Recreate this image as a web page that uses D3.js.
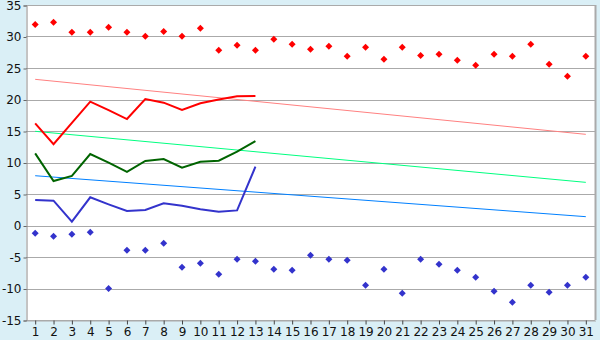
<!DOCTYPE html>
<html>
<head>
<meta charset="utf-8">
<title>Daily chart</title>
<script src="https://d3js.org/d3.v7.min.js"></script>
<style>
  body { margin: 0; background: #daeff6; }
  text { font-family: "DejaVu Sans", Verdana, sans-serif; font-size: 12px; fill: #111; }
</style>
</head>
<body>
<div id="chart"></div>
<script>
// days of the month
const days = d3.range(1, 32);
const yTicks = [35, 30, 25, 20, 15, 10, 5, 0, -5, -10, -15];

// scatter series (all 31 days)
const highPoints = [31.9, 32.25, 30.66, 30.66, 31.46, 30.66, 30.03, 30.8, 30.03, 31.3,
  27.8, 28.6, 27.8, 29.55, 28.76, 27.97, 28.44, 26.85, 28.28, 26.38,
  28.28, 27.0, 27.17, 26.22, 25.43, 27.17, 26.85, 28.76, 25.58, 23.68, 26.85];
const lowPoints = [-1.24, -1.72, -1.4, -1.08, -10.0, -3.94, -3.94, -2.83, -6.64, -6.0,
  -7.75, -5.37, -5.68, -6.95, -7.11, -4.73, -5.37, -5.52, -9.49, -6.95,
  -10.76, -5.37, -6.16, -7.11, -8.22, -10.45, -12.2, -9.49, -10.6, -9.49, -8.22];

// line series (first 13 days)
const redLine = [16.2, 12.9, 16.3, 19.66, 18.3, 16.9, 20.08, 19.5, 18.33, 19.4, 20.0, 20.5, 20.56];
const greenLine = [11.45, 7.06, 7.86, 11.35, 9.97, 8.5, 10.24, 10.56, 9.18, 10.13, 10.29, 11.72, 13.41];
const blueLine = [4.05, 3.94, 0.6, 4.48, 3.36, 2.3, 2.46, 3.52, 3.14, 2.57, 2.2, 2.4, 9.34];

// trend lines: value at day 1 and day 31
const trendDays = [1, 31];
const pinkTrend = [23.2, 14.47];
const springTrend = [14.95, 6.85];
const azureTrend = [7.9, 1.4];

const width = 600, height = 340;
const margin = {left: 26, right: 5, top: 5, bottom: 20};

const svg = d3.select("#chart").append("svg")
  .attr("width", width).attr("height", height);

const x = d3.scaleBand().domain(days)
  .range([margin.left, width - margin.right]);
const cx = d => x(d) + x.bandwidth() / 2;
const y = d3.scaleLinear().domain([-15, 35])
  .range([height - margin.bottom, margin.top]);

// plot background
svg.append("rect")
  .attr("x", margin.left).attr("y", margin.top)
  .attr("width", width - margin.right - margin.left)
  .attr("height", height - margin.bottom - margin.top)
  .attr("fill", "#fff");

// gridlines
svg.append("g").selectAll("line").data(yTicks).join("line")
  .attr("x1", margin.left).attr("x2", width - margin.right)
  .attr("y1", d => Math.round(y(d)) + 0.5).attr("y2", d => Math.round(y(d)) + 0.5)
  .attr("stroke", "#aaa");

// right border
svg.append("line")
  .attr("x1", width - margin.right + 0.5).attr("x2", width - margin.right + 0.5)
  .attr("y1", margin.top).attr("y2", height - margin.bottom)
  .attr("stroke", "#aaa").attr("stroke-width", 2);

// axes
const yAxis = svg.append("g")
  .attr("transform", `translate(${margin.left + 0.5},0.5)`)
  .call(d3.axisLeft(y).tickValues(yTicks).tickSize(3).tickPadding(2)
    .tickFormat(d => d));
yAxis.select(".domain").attr("stroke", "#888");
yAxis.selectAll(".tick line").attr("stroke", "#666");

const xAxis = svg.append("g")
  .attr("transform", `translate(0.5,${height - margin.bottom + 0.5})`)
  .call(d3.axisBottom(x).tickSize(4).tickPadding(3).tickSizeOuter(0));
xAxis.select(".domain").attr("stroke", "#aaa");
xAxis.selectAll(".tick line").attr("stroke", "#444");

// trend lines
const trend = d3.line().x((d, i) => cx(trendDays[i])).y(d => y(d));
[[pinkTrend, "#ff8080"], [springTrend, "#00ff80"], [azureTrend, "#0080ff"]].forEach(([data, c]) => {
  svg.append("path").datum(data).attr("d", trend)
    .attr("fill", "none").attr("stroke", c).attr("stroke-width", 1);
});

// main lines
const line = d3.line().x((d, i) => cx(days[i])).y(d => y(d));
[[redLine, "#ff0000"], [greenLine, "#006400"], [blueLine, "#3333cc"]].forEach(([data, c]) => {
  svg.append("path").datum(data).attr("d", line)
    .attr("fill", "none").attr("stroke", c).attr("stroke-width", 2);
});

// scatter markers: small square diamond
const marker = "M0,-3.5L3.5,0L0,3.5L-3.5,0Z";
[[highPoints, "#ff0000"], [lowPoints, "#3333cc"]].forEach(([data, c]) => {
  svg.append("g").selectAll("path").data(data).join("path")
    .attr("d", marker)
    .attr("transform", (d, i) => `translate(${cx(days[i])},${y(d)})`)
    .attr("fill", c);
});
</script>
</body>
</html>
